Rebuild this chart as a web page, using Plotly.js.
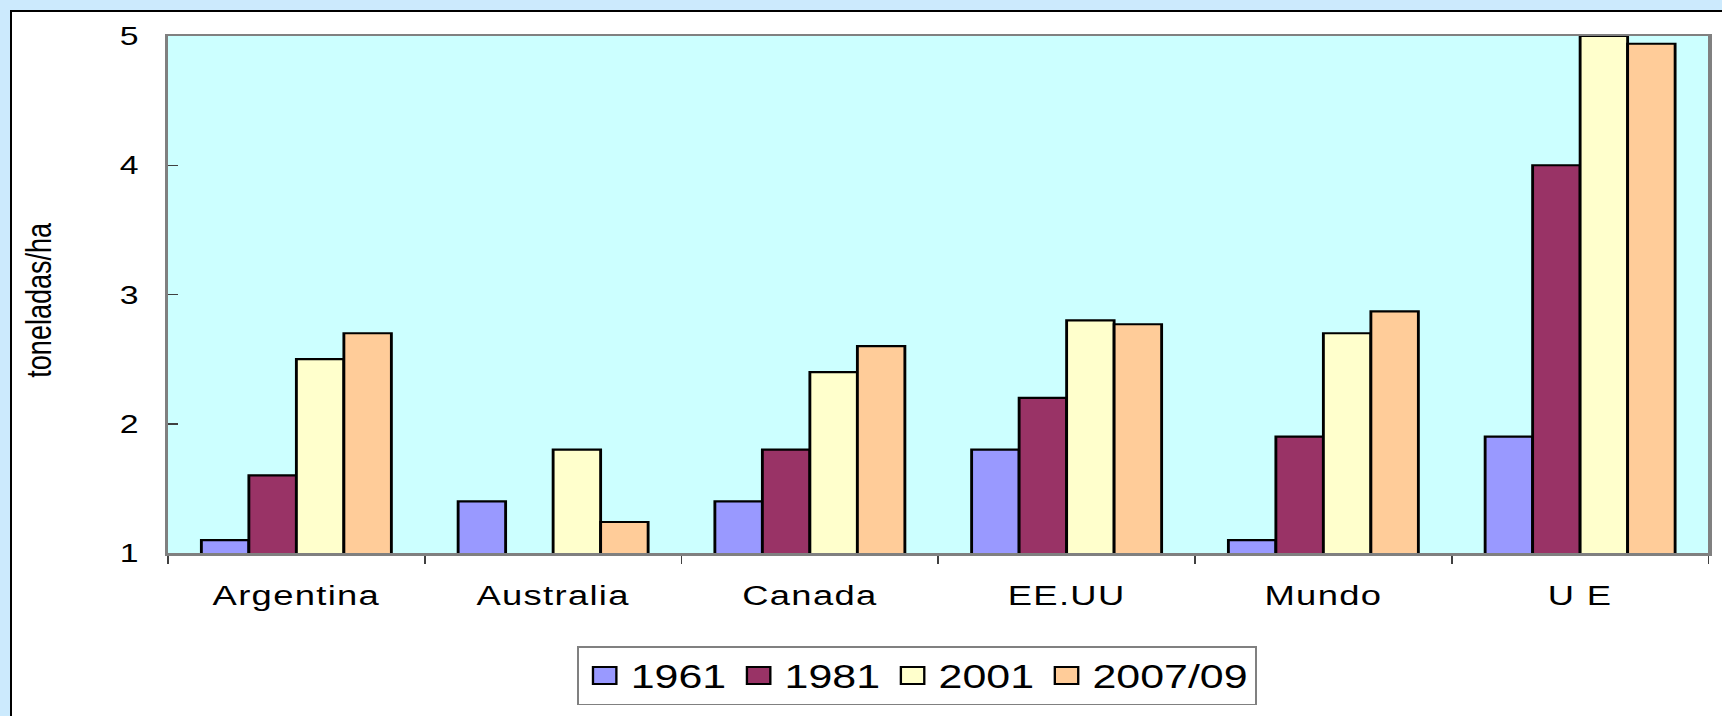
<!DOCTYPE html>
<html>
<head>
<meta charset="utf-8">
<script src="https://cdn.plot.ly/plotly-3.0.1.min.js"></script>
<style>
  html, body { margin: 0; padding: 0; width: 1722px; height: 716px; overflow: hidden; background: #cceafd; }
  #frame {
    position: absolute; left: 10px; top: 10px; width: 1712px; height: 706px;
    box-sizing: border-box; background: #fff; overflow: hidden;
    border-left: 2px solid #000; border-top: 2px solid #000;
  }
  /* the original chart is stretched sideways, so the whole plot is too */
  #chart { position: absolute; left: 0; top: 0; width: 1316px; height: 704px; transform: scaleX(1.3); transform-origin: 0 0; }
  #chart .xtick text { letter-spacing: 1px; }
</style>
</head>
<body>
<div id="frame"><div id="chart"></div></div>
<script>
  const countries = ['Argentina', 'Australia', 'Canada', 'EE.UU', 'Mundo', 'U E'];
  const years = ['1961', '1981', '2001', '2007/09'];

  // rendimiento, toneladas/ha
  const y1961 = [1.1, 1.4, 1.4, 1.8, 1.1, 1.9];
  const y1981 = [1.6, null, 1.8, 2.2, 1.9, 4.0];
  const y2001 = [2.5, 1.8, 2.4, 2.8, 2.7, 5.0];
  const y2007 = [2.7, 1.24, 2.6, 2.77, 2.87, 4.94];

  const colors = ['#9999ff', '#993366', '#ffffcc', '#ffcc99'];
  const series = [y1961, y1981, y2001, y2007];

  const traces = series.map((vals, i) => ({
    x: countries,
    y: vals,
    type: 'bar',
    name: years[i],
    marker: { color: colors[i], line: { color: '#000', width: 2.2 } },
    hoverinfo: 'skip'
  }));

  const layout = {
    width: 1316,
    height: 704,
    margin: { l: 120, r: 11, t: 24, b: 158 },
    paper_bgcolor: '#fff',
    plot_bgcolor: '#ccffff',
    font: { family: 'Liberation Sans, Arial, sans-serif', color: '#000' },
    barmode: 'group',
    bargap: 0.26,
    bargroupgap: 0,
    xaxis: {
      tickson: 'boundaries', ticks: 'outside', ticklen: 8, tickwidth: 1.5, tickcolor: '#404040',
      showline: true, linecolor: '#808080', linewidth: 2.5, mirror: true,
      showgrid: false, tickfont: { size: 28 }, ticklabelstandoff: 16
    },
    yaxis: {
      range: [1, 5], dtick: 1, ticks: 'inside', ticklen: 8, tickwidth: 1.5, tickcolor: '#404040',
      showline: true, linecolor: '#808080', linewidth: 2.5, mirror: true,
      showgrid: false, zeroline: false, tickfont: { size: 26 }, ticklabelstandoff: 15
    },
    legend: {
      orientation: 'h', x: 0.486, xanchor: 'center', y: -0.18, yanchor: 'top',
      font: { size: 33 }, bordercolor: '#808080', borderwidth: 1.5, bgcolor: '#fff'
    },
    annotations: [{
      text: 'toneladas/ha', xref: 'paper', yref: 'paper', x: 0, y: 0.49, xshift: -99,
      xanchor: 'center', yanchor: 'middle', textangle: -90, showarrow: false,
      font: { size: 27 }
    }]
  };

  Plotly.newPlot('chart', traces, layout, { displayModeBar: false, staticPlot: true }).then(() => {
    // bigger legend swatches, as in the original
    document.querySelectorAll('#chart .legendpoints path').forEach(p => {
      p.setAttribute('d', 'M9,8.5H-9V-8.5H9Z');
      p.style.strokeWidth = '1.8px';
    });
  });
</script>
</body>
</html>
